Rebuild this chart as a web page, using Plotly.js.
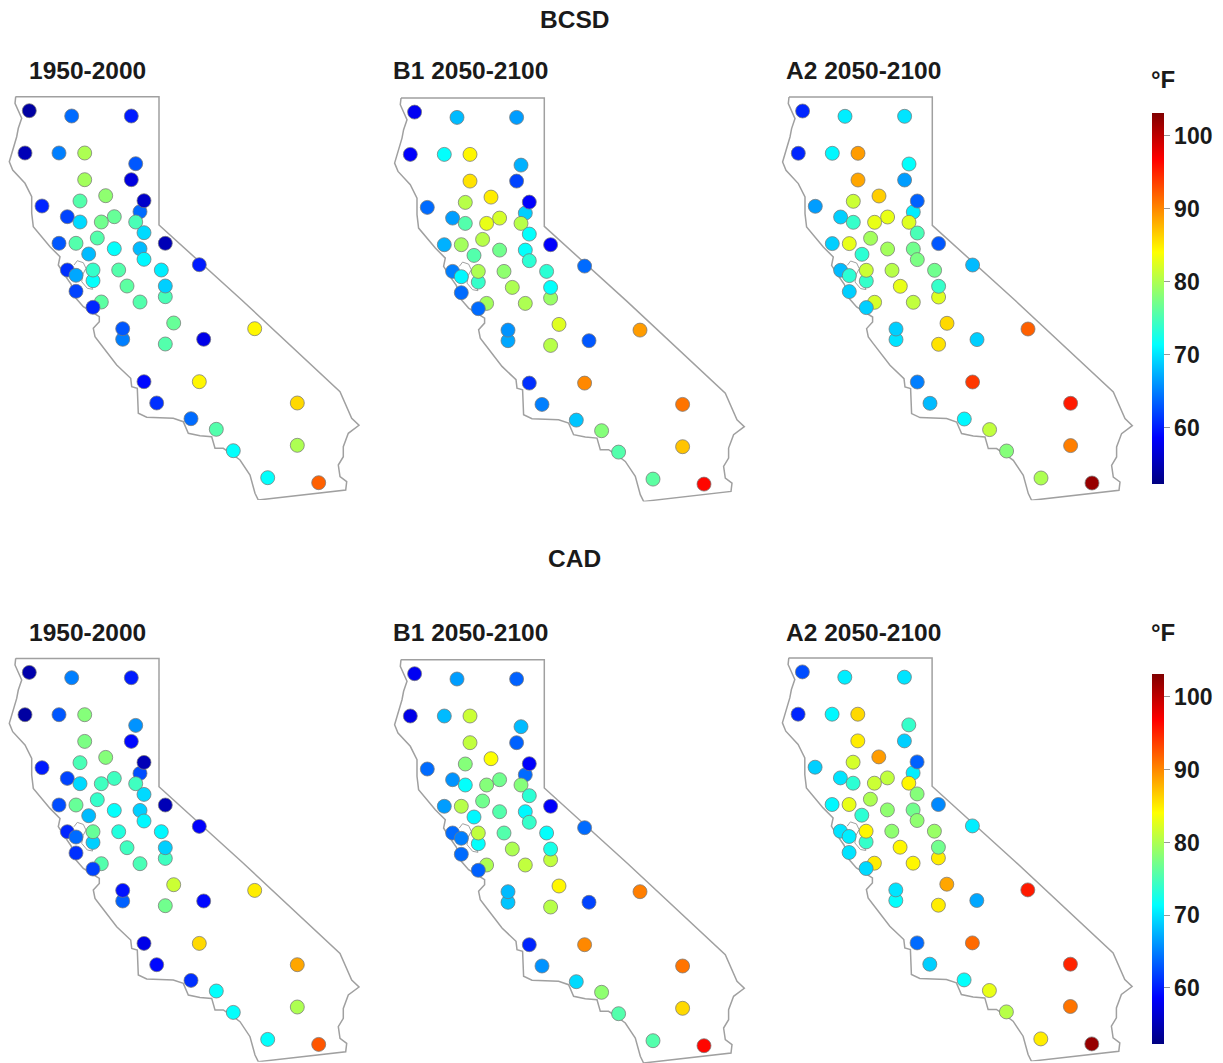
<!DOCTYPE html>
<html>
<head>
<meta charset="utf-8">
<script src="https://cdn.plot.ly/plotly-3.0.1.min.js"></script>
<style>html,body{margin:0;padding:0;background:#fff}#chart{width:1223px;height:1063px}</style>
</head>
<body>
<div id="chart"></div>
<script>
// Map-unit station positions (shared by all panels)
const stationX = [29.3,71.7,131.3,25,59,84.7,135.7,84.7,131.3,105.7,80,144,42,140,67.3,114.3,80,101.3,135.7,144,97.3,165.3,59,76,114.3,140,88.7,144,67.3,93,118.7,161.3,76,93,199.3,127,165.3,76,165.3,101.3,140,93,122.7,122.7,173.7,165.3,203.7,254.7,144,199.3,156.7,297.3,191,216.3,297.3,233.3,267.7,318.7];
const stationY = [110.7,116,116,153,153,153,163.7,179.7,179.7,195.7,201,200.7,206,211.7,216.7,216.7,222,222,222,232.7,238,243.3,243.3,243.3,248.7,248.7,254,259.3,270,270,270,270,275.3,280.7,264.7,286,286,291.3,296.7,302,302,307.3,328.7,339.3,323,344,339.3,328.7,381.7,381.7,403,403,418.7,429.3,445.3,450.7,477.7,482.7];
const stackedLast = [12,30,37,43];

// Temperature (deg F) per station, per panel
const bcsdHist = [54,64,60,55,65,80,63,79.5,57,78.5,75.5,56,60.5,64,62,76.5,69.5,77,75,69.5,75.5,55,63,75.5,71.5,68,68,71,61,74,75.5,70.5,67,71.5,60,76,69,62,75,76,75.5,60.5,63,65,76.5,75.5,57.5,84.5,59,84.5,61,86,64,75.5,80,71.5,71.5,92];
const bcsdB1 = [58,68,66.5,58.5,71.5,84.5,67.5,85.5,62,85,80.5,58.5,64,69,66.5,82,75.5,83,80.5,71.5,80.5,58.5,67.5,79.5,77,71.5,75.5,73.5,65,80,78.5,73.5,71,74,64,80,71.5,64,79,79.5,80,64,66,67,82.5,80.5,63,89,61,90,65,91,68.5,78,87,75.5,76,96.5];
const bcsdA2 = [60.5,70.5,70,60.5,71,89,71.5,88.5,66.5,86.5,81.5,63.5,66.5,70.5,69,83,74,83,82.5,75,79.5,63,69,83,79.5,77,73.5,77.5,68,81.5,80.5,77,73.5,74,68,83,74,69,82.5,82,81,69,69,70,86,85.5,69,92,65,94,68,95.5,71,81,90.5,78,80,102];
const cadHist = [54.5,65,60,54,63,78,66,77.5,59,78,75,55,60,62.5,62,74.5,69.5,74.5,74.5,69.5,74,55,62.5,76.5,71.5,69,68,71,60.5,76.5,73,71,64,69,58.5,74.5,69,61,74.5,75.5,75,62,59.5,63.5,81.5,77,59,85,57.5,86,59,88.5,61,71.5,80,71.5,71.5,92.5];
const cadB1 = [58,66.5,63.5,57.5,68,81.5,68,81,63.5,84,78,58.5,64,64,66,77,71.5,78,78,73.5,77,58.5,66.5,80.5,75.5,71,71,74,64,81,75.5,71.5,65,71.5,64,80,72.5,64,81,80,81,63.5,68,68.5,84.5,80.5,62,90.5,60.5,90,66,91,69.5,78.5,86,75.5,75.5,96.5];
const cadA2 = [62.5,70.5,70,60.5,71,86,74,85,69,89,82,63.5,69,70.5,70,81,73.5,81.5,84.5,78,80,65.5,71,83,78.5,77,73.5,78.5,70,84.5,78.5,79,70.5,74,70.5,84.5,77,70,85,85,84.5,69.5,70,71.5,88.5,85,67,95.5,64,91.5,69,95,71.5,83,91,80.5,85,102];

// California outline in map units
const outlineX = [15.7,159,159,241.7,340,346.7,351.7,359,348.3,343.3,343.3,338.3,340,346.7,345.7,258.3,255,250,240,233.3,223.3,215,211.7,200,188.3,183.3,173.3,146.7,138.3,137.3,131.7,130.7,116.7,100,95,93.3,99.3,99.3,83.3,76,71,64,58.3,60,50,33.3,31.7,31.7,25,12.7,9.3,16.7,18.3,21.7,15,15.7];
const outlineY = [96.7,96.7,225,300,391.7,406.7,418.3,425.3,433.3,446.7,456.7,465,476.7,481.7,490,500,493.3,475,460,455,448.3,448.3,436.7,435.7,433.3,421.7,418.3,417.3,413.3,388.3,386.7,378.3,365,343.3,336.7,328.3,321.7,316.7,306.7,298.3,284,274,265,256.7,246.7,226.7,213.3,196.7,183.3,170,161.7,136.7,128.3,118.3,103.3,96.7];
const bayX = [74,77.3,83.3,86,83,81.7,87.3,92.7,89.3];
const bayY = [265,260.7,262.7,268.3,274,281.7,288.3,289.3,281.7];

const columnTitles = ['1950-2000','B1 2050-2100','A2 2050-2100'];
const tempTicks = [60,70,80,90,100];
const jetScale = [[0,'rgb(0,0,128)'],[0.125,'rgb(0,0,255)'],[0.375,'rgb(0,255,255)'],[0.625,'rgb(255,255,0)'],[0.875,'rgb(255,0,0)'],[1,'rgb(128,0,0)']];
const tempMin = 52.3, tempMax = 103.15;

const W = 1223, H = 1063, FONT = 'Liberation Sans, Arial, sans-serif';
const Y0 = 90, Y1 = 500;
const panels = [
  {vals:bcsdHist, dx:0, dy:0, ca:'coloraxis'},
  {vals:bcsdB1, dx:385.3, dy:1.4, ca:'coloraxis'},
  {vals:bcsdA2, dx:773.3, dy:0.3, ca:'coloraxis'},
  {vals:cadHist, dx:0, dy:561.7, ca:'coloraxis2'},
  {vals:cadB1, dx:385.3, dy:563, ca:'coloraxis2'},
  {vals:cadA2, dx:773.1, dy:561.2, ca:'coloraxis2'}
];
const order = stationX.map((_, i) => i).filter(i => !stackedLast.includes(i + 1)).concat(stackedLast.map(n => n - 1));

const traces = [];
const layout = {
  width:W, height:H, margin:{l:0,r:0,t:0,b:0}, paper_bgcolor:'#fff', plot_bgcolor:'rgba(0,0,0,0)',
  showlegend:false, font:{family:FONT,color:'#1a1a1a'}, annotations:[]
};
panels.forEach((p, k) => {
  const n = k === 0 ? '' : String(k + 1);
  layout['xaxis' + n] = {domain:[p.dx / W, (p.dx + 370) / W], range:[0,370], visible:false, fixedrange:true, anchor:'y' + n};
  layout['yaxis' + n] = {domain:[1 - (p.dy + Y1) / H, 1 - (p.dy + Y0) / H], range:[Y1,Y0], visible:false, fixedrange:true, anchor:'x' + n};
  [[outlineX,outlineY,1.5],[bayX,bayY,1]].forEach(o => traces.push({
    type:'scatter', mode:'lines', x:o[0], y:o[1], xaxis:'x' + n, yaxis:'y' + n, cliponaxis:false,
    line:{color:'#a0a0a0', width:o[2]}, hoverinfo:'skip'
  }));
  traces.push({
    type:'scatter', mode:'markers', xaxis:'x' + n, yaxis:'y' + n, cliponaxis:false,
    x:order.map(i => stationX[i]), y:order.map(i => stationY[i]),
    marker:{size:14, color:order.map(i => p.vals[i]), coloraxis:p.ca, line:{color:'rgba(120,120,120,0.75)', width:1}},
    hovertemplate:'%{marker.color} °F<extra></extra>'
  });
});
function bar(top, bottom) {
  return {
    cmin:tempMin, cmax:tempMax, colorscale:jetScale,
    colorbar:{
      x:1152 / W, xanchor:'left', xpad:0, ypad:0, thickness:12, thicknessmode:'pixels',
      y:1 - bottom / H, yanchor:'bottom', len:(bottom - top) / H, lenmode:'fraction',
      outlinewidth:0, tickmode:'array', tickvals:tempTicks, ticktext:tempTicks.map(String),
      ticks:'outside', ticklen:6, tickcolor:'#999', tickwidth:1,
      tickfont:{family:FONT, size:23, color:'#1a1a1a', weight:'bold'}
    }
  };
}
layout.coloraxis = bar(113, 484);
layout.coloraxis2 = bar(674, 1044);

function label(text, px, py, anchor, size) {
  layout.annotations.push({
    text:'<b>' + text + '</b>', xref:'paper', yref:'paper', x:px / W, y:1 - py / H,
    xanchor:anchor, yanchor:'middle', showarrow:false, borderpad:0,
    font:{family:FONT, size:size, color:'#1a1a1a'}
  });
}
label('BCSD', 574, 19.5, 'center', 24.5);
label('CAD', 574, 558, 'center', 24.5);
[28,392,785].forEach((x, i) => {
  label(columnTitles[i], x, 70.5, 'left', 24.5);
  label(columnTitles[i], x, 632, 'left', 24.5);
});
label('°F', 1149.5, 79, 'left', 24);
label('°F', 1149.5, 632, 'left', 24);

Plotly.newPlot('chart', traces, layout, {displayModeBar:false, responsive:false});
</script>
</body>
</html>
